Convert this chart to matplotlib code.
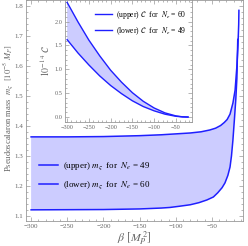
import matplotlib
matplotlib.use("Agg")
import matplotlib.pyplot as plt
import numpy as np
from matplotlib.ticker import MultipleLocator

# masa do pseudoescalaron (painel principal)
beta_up = [-300, -250, -200, -150, -120, -100, -80, -65, -53, -45, -38, -33,
           -29, -25, -21, -18, -15.5, -14, -13, -12.7]
m_up = [1.364, 1.364, 1.365, 1.368, 1.371, 1.374, 1.377, 1.381, 1.387, 1.393,
        1.402, 1.412, 1.422, 1.440, 1.477, 1.52, 1.60, 1.67, 1.74, 1.787]
beta_lo = [-300, -200, -150, -120, -108, -95, -80, -68, -57, -48, -42, -36,
           -32, -28, -25, -23, -21, -19, -17, -15.5, -14.3]
m_lo = [1.120, 1.121, 1.123, 1.126, 1.128, 1.132, 1.137, 1.144, 1.153, 1.163,
        1.177, 1.194, 1.21, 1.235, 1.263, 1.30, 1.353, 1.42, 1.49, 1.56, 1.69]

# inset: 10^-14 C
beta_c = [-300, -275, -250, -225, -200, -175, -150, -125, -100, -75, -50, -35, -22]
c_up = [2.40, 1.99, 1.61, 1.28, 0.98, 0.73, 0.51, 0.33, 0.19, 0.087, 0.024, 0.005, 0.0]
c_lo = [1.62, 1.34, 1.09, 0.86, 0.66, 0.49, 0.34, 0.22, 0.13, 0.06, 0.016, 0.003, 0.0]

linha = '#1f1fff'
preench = '#ccccff'
cinza = '#999999'
cor_txt = '#666666'

plt.rcParams['font.family'] = ['Liberation Serif', 'DejaVu Serif']
plt.rcParams['mathtext.fontset'] = 'stix'


def estilo(ax, maj_x, min_x, maj_y, min_y, fs):
    for s in ax.spines.values():
        s.set_color(cinza)
        s.set_linewidth(0.6)
    ax.xaxis.set_major_locator(MultipleLocator(maj_x))
    ax.xaxis.set_minor_locator(MultipleLocator(min_x))
    ax.yaxis.set_major_locator(MultipleLocator(maj_y))
    ax.yaxis.set_minor_locator(MultipleLocator(min_y))
    ax.tick_params(which='both', direction='in', top=True, right=True,
                   color=cinza, width=0.5, labelsize=fs, labelcolor=cor_txt, pad=2)
    ax.tick_params(which='major', length=3)
    ax.tick_params(which='minor', length=1.5)


fig = plt.figure(figsize=(2.48, 2.46), dpi=100)

ax = fig.add_axes([0.105, 0.102, 0.875, 0.896])
ax.fill(np.concatenate([beta_up, beta_lo[::-1]]),
        np.concatenate([m_up, m_lo[::-1]]), color=preench, lw=0)
ax.plot(beta_up, m_up, color=linha, lw=1.1, label=r'(upper) $m_{\varsigma}$  for  $N_e$ = 49')
ax.plot(beta_lo, m_lo, color=linha, lw=1.1, label=r'(lower) $m_{\varsigma}$  for  $N_e$ = 60')
ax.set_xlim(-307, -7)
ax.set_ylim(1.083, 1.82)
estilo(ax, 50, 10, 0.1, 0.02, 5)
ax.set_xticks([-300, -250, -200, -150, -100, -50])
ax.set_xticklabels(['\u2212300', '\u2212250', '\u2212200', '\u2212150', '\u2212100', '\u221250'])
ax.set_xlabel(r'$\beta\ [M_P^{\,2}]$', fontsize=8.5, color=cor_txt, labelpad=1)
ax.set_ylabel(r'Pseudoscalaron mass  $m_{\varsigma}$  $[10^{-5}\ M_P]$',
              fontsize=6.2, color=cor_txt)
ax.yaxis.set_label_coords(-0.05, 0.51)
ax.legend(loc='center left', bbox_to_anchor=(0.02, 0.205), frameon=False,
          fontsize=6.5, handlelength=2.2, handletextpad=0.5, labelspacing=0.8)

ins = fig.add_axes([0.262, 0.504, 0.512, 0.494])
ins.set_facecolor('white')
ins.fill(np.concatenate([beta_c, beta_c[::-1]]),
         np.concatenate([c_up, c_lo[::-1]]), color=preench, lw=0)
ins.plot(beta_c, c_up, color=linha, lw=1.0, label=r'(upper) $\mathcal{C}$  for  $N_e$ = 60')
ins.plot(beta_c, c_lo, color=linha, lw=1.0, label=r'(lower) $\mathcal{C}$  for  $N_e$ = 49')
ins.set_xlim(-305, -13)
ins.set_ylim(-0.104, 2.44)
estilo(ins, 50, 10, 0.5, 0.1, 4.5)
ins.set_xticks([-300, -250, -200, -150, -100, -50])
ins.set_xticklabels(['\u2212300', '\u2212250', '\u2212200', '\u2212150', '\u2212100', '\u221250'])
ins.set_ylabel(r'$10^{-14}\ \mathcal{C}$', fontsize=7, color=cor_txt, labelpad=2)
ins.legend(loc='upper right', bbox_to_anchor=(1.01, 0.99), frameon=False,
           fontsize=5.5, handlelength=2.2, handletextpad=0.5, labelspacing=0.6)

fig.savefig('out.png', dpi=100)
